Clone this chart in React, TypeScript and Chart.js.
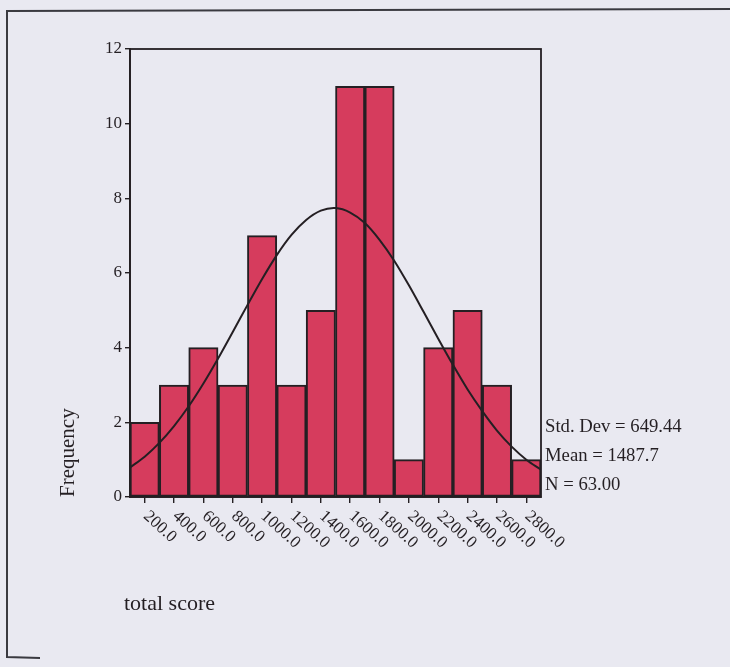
import { useEffect, useRef } from "react";
import { Chart, registerables } from "chart.js";
Chart.register(...registerables);

// ---- data ----
const categories = ["200.0", "400.0", "600.0", "800.0", "1000.0", "1200.0", "1400.0", "1600.0", "1800.0", "2000.0", "2200.0", "2400.0", "2600.0", "2800.0"];
const frequencies = [2, 3, 4, 3, 7, 3, 5, 11, 11, 1, 4, 5, 3, 1];
const curveX = [100, 200, 300, 400, 500, 600, 700, 800, 900, 1000, 1100, 1200, 1300, 1400, 1500, 1600, 1700, 1800, 1900, 2000, 2100, 2200, 2300, 2400, 2500, 2600, 2700, 2800, 2900];
const curveY = [0.79, 1.08, 1.45, 1.9, 2.43, 3.04, 3.71, 4.42, 5.14, 5.84, 6.48, 7.02, 7.42, 7.67, 7.74, 7.62, 7.34, 6.89, 6.33, 5.67, 4.96, 4.24, 3.54, 2.88, 2.3, 1.78, 1.35, 1.0, 0.73];
const yTickValues = [0, 2, 4, 6, 8, 10, 12];
const statsLines = ["Std. Dev = 649.44", "Mean = 1487.7", "N = 63.00"];
const xTitle = "total score";
const yTitle = "Frequency";

const W = 730;
const H = 667;
const AREA = { left: 130, right: 541, top: 49, bottom: 497 };
const PAD_LEFT = 56;
const FONT = "'Liberation Serif', 'Times New Roman', serif";
const INK = "#241f23";
const BG = "#e9e9f1";

const decorPlugin = {
  id: "decor",
  beforeDraw(chart: any) {
    const ctx = chart.ctx;
    ctx.save();
    ctx.fillStyle = BG;
    ctx.fillRect(0, 0, chart.width, chart.height);
    // scanned page frame
    ctx.strokeStyle = "#3a3a40";
    ctx.lineWidth = 2;
    ctx.beginPath();
    ctx.moveTo(730, 9);
    ctx.lineTo(7, 11);
    ctx.lineTo(7, 657);
    ctx.lineTo(40, 658);
    ctx.stroke();
    ctx.restore();
  },
  afterDraw(chart: any) {
    const ctx = chart.ctx;
    const a = chart.chartArea;
    const xs = chart.scales.x;
    ctx.save();
    ctx.strokeStyle = INK;
    ctx.lineWidth = 1.8;
    ctx.strokeRect(a.left, a.top, a.right - a.left, a.bottom - a.top);
    // rotated x tick labels
    ctx.fillStyle = INK;
    ctx.font = "17px " + FONT;
    ctx.textAlign = "left";
    ctx.textBaseline = "middle";
    categories.forEach((lab, i) => {
      const px = xs.getPixelForTick(i);
      ctx.save();
      ctx.translate(px + 1, a.bottom + 17);
      ctx.rotate((42 * Math.PI) / 180);
      ctx.fillText(lab, 0, 0);
      ctx.restore();
    });
    // x title
    ctx.font = "22px " + FONT;
    ctx.textBaseline = "alphabetic";
    ctx.fillText(xTitle, 124, 610);
    // stats
    ctx.font = "18.7px " + FONT;
    statsLines.forEach((s, i) => {
      ctx.fillText(s, 545, 432 + i * 29);
    });
    ctx.restore();
  },
};

export default function App() {
  const ref = useRef<HTMLCanvasElement | null>(null);
  useEffect(() => {
    if (!ref.current) return;
    const chart = new Chart(ref.current, {
      type: "bar",
      data: {
        labels: categories,
        datasets: [
          {
            type: "line",
            data: curveX.map((x, i) => ({ x, y: curveY[i] })),
            xAxisID: "x2",
            borderColor: INK,
            borderWidth: 2,
            pointRadius: 0,
            tension: 0.3,
            fill: false,
            order: 0,
          } as any,
          {
            type: "bar",
            data: frequencies,
            xAxisID: "x",
            grouped: false,
            backgroundColor: "#d63c5d",
            borderColor: INK,
            borderWidth: 2,
            borderSkipped: false,
            barPercentage: 1,
            categoryPercentage: 1,
            order: 1,
          } as any,
        ],
      },
      options: {
        animation: false,
        responsive: false,
        maintainAspectRatio: false,
        events: [],
        layout: { padding: { left: PAD_LEFT, right: W - AREA.right, top: AREA.top, bottom: 0 } },
        plugins: { legend: { display: false }, tooltip: { enabled: false }, title: { display: false } },
        scales: {
          x: {
            type: "category",
            offset: true,
            grid: { display: true, drawOnChartArea: false, drawTicks: true, tickLength: 6, offset: false, color: INK, lineWidth: 1.4 },
            border: { display: true, color: INK, width: 1.8 },
            ticks: { display: false },
            afterFit(scale: any) {
              scale.height = H - AREA.bottom;
            },
          },
          x2: {
            type: "linear",
            display: false,
            offset: false,
            grid: { offset: false },
            min: 100,
            max: 2900,
          },
          y: {
            type: "linear",
            min: 0,
            max: 12,
            afterBuildTicks(scale: any) {
              scale.ticks = yTickValues.map((v) => ({ value: v }));
            },
            grid: { display: true, drawOnChartArea: false, drawTicks: true, tickLength: 5, color: INK, lineWidth: 1.4 },
            border: { display: true, color: INK, width: 1.8 },
            ticks: { color: INK, font: { family: FONT, size: 17 }, padding: 3 },
            title: {
              display: true,
              text: yTitle,
              align: "start",
              color: INK,
              font: { family: FONT, size: 21 },
              padding: { top: 0, bottom: 0 },
            },
            afterFit(scale: any) {
              scale.width = AREA.left - PAD_LEFT;
            },
          },
        },
      } as any,
      plugins: [decorPlugin],
    });
    return () => chart.destroy();
  }, []);
  return (
    <div style={{ position: "absolute", left: 0, top: 0, width: W, height: H, background: BG }}>
      <canvas ref={ref} width={W} height={H} style={{ display: "block", width: W, height: H }} />
    </div>
  );
}
